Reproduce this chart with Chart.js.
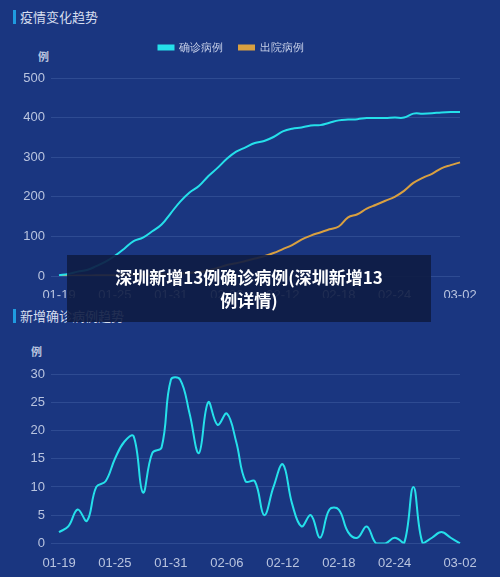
<!DOCTYPE html>
<html><head><meta charset="utf-8">
<script src="https://cdn.jsdelivr.net/npm/chart.js@4"></script>
<style>
body{margin:0;background:#1a3680;width:500px;height:577px;overflow:hidden;position:relative;font-family:"Noto Sans CJK SC",sans-serif}
.t{position:absolute;left:13px;color:#d6deef;font-size:13px;border-left:3px solid #1f9be0;padding-left:4px;line-height:14px}
.u{position:absolute;color:#b9c4df;font-size:11px;font-weight:bold}
.c{position:absolute;left:0;width:500px}
#ov{position:absolute;left:67px;top:255px;width:364px;height:67px;background:rgba(14,28,66,0.9);color:#fff;font-weight:bold;font-size:17px;text-align:center;line-height:23px;padding-top:10px;box-sizing:border-box}
</style></head><body>
<div class="t" style="top:10px">疫情变化趋势</div>
<div class="u" style="left:38px;top:48px">例</div>
<div class="c" style="top:0;height:300px"><canvas id="a"></canvas></div>
<div class="t" style="top:309px">新增确诊病例趋势</div>
<div class="u" style="left:31px;top:343px">例</div>
<div class="c" style="top:300px;height:277px"><canvas id="b"></canvas></div>
<div id="ov">深圳新增13例确诊病例(深圳新增13<br>例详情)</div>
<script>
const dates=["01-19","01-20","01-21","01-22","01-23","01-24","01-25","01-26","01-27","01-28","01-29","01-30","01-31","02-01","02-02","02-03","02-04","02-05","02-06","02-07","02-08","02-09","02-10","02-11","02-12","02-13","02-14","02-15","02-16","02-17","02-18","02-19","02-20","02-21","02-22","02-23","02-24","02-25","02-26","02-27","02-28","02-29","03-01","03-02"];
const confirmed=[2,5,11,15,25,36,51,69,88,97,113,130,159,188,211,227,252,273,296,314,325,336,341,351,365,372,375,380,381,387,393,395,396,399,399,399,400,400,410,410,411,413,414,414];
const discharged=[0,0,1,1,2,2,2,3,3,4,4,5,5,6,8,10,14,20,28,32,38,44,50,58,68,78,92,102,110,118,125,148,156,170,180,190,200,215,235,248,258,272,280,287];
const daily=[2,3,6,4,10,11,15,18,19,9,16,17,29,29,23,16,25,21,23,18,11,11,5,10,14,7,3,5,1,6,6,2,1,3,0,0,1,0,10,0,1,2,1,0];
const tickC='#b9c4df',gridC='rgba(120,150,210,0.22)';
function xs(h){return{afterFit:s=>{if(h)s.height=h},grid:{display:false},border:{display:false},ticks:{color:tickC,font:{size:13},maxRotation:0,autoSkip:false,padding:4,
 callback:(v,i)=>(i%6===0&&i!==42)||i===43?dates[i]:''}};}
function ys(max,step){return{min:0,max:max,afterFit:s=>{s.width=57},border:{display:false},grid:{color:gridC},ticks:{color:tickC,font:{size:13},stepSize:step,padding:6}};}
const ds=(d,c)=>({data:d,borderColor:c,backgroundColor:c,borderWidth:2,pointRadius:0,tension:0.4,fill:false});
const legendGap={id:'lg',beforeInit(c){const f=c.legend.fit;c.legend.fit=function(){f.call(this);this.height+=15;};}};
new Chart('a',{type:'line',plugins:[legendGap],data:{labels:dates,datasets:[Object.assign(ds(confirmed,'#25e0ea'),{label:'确诊病例'}),Object.assign(ds(discharged,'#d9a040'),{label:'出院病例'})]},
 options:{responsive:true,maintainAspectRatio:false,animation:false,layout:{padding:{left:2,right:40,top:26,bottom:2}},
 plugins:{legend:{labels:{color:'#c7d0e8',font:{size:11},boxWidth:15,boxHeight:4,padding:16}},tooltip:{enabled:false}},
 scales:{x:xs(22),y:ys(500,100)}}});
new Chart('b',{type:'line',data:{labels:dates,datasets:[ds(daily,'#25e0ea')]},
 options:{responsive:true,maintainAspectRatio:false,animation:false,layout:{padding:{left:2,right:40,top:74,bottom:2}},
 plugins:{legend:{display:false},tooltip:{enabled:false}},
 scales:{x:xs(0),y:ys(30,5)}}});
</script></body></html>
